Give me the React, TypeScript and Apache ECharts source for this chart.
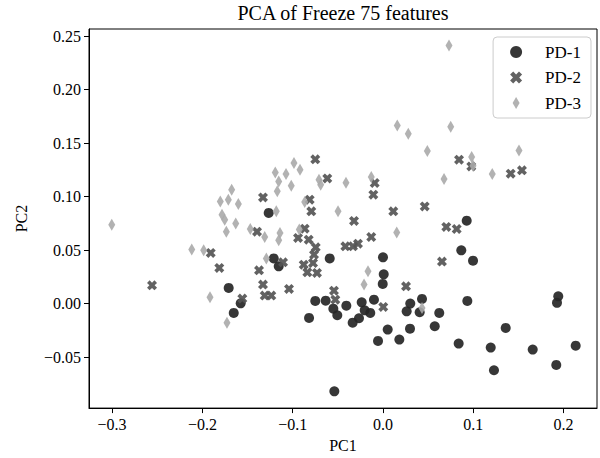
import React, { useEffect, useRef } from "react";
import * as echarts from "echarts";

const pd1: [number, number][] = [
  [-0.0819, -0.0134], [-0.075, 0.0025], [-0.0635, 0.0028], [-0.055, -0.0047], [-0.0506, -0.0109],
  [-0.0406, -0.0019], [-0.0236, 0.0012], [-0.0203, -0.0063], [-0.0266, -0.0137], [-0.0336, -0.0178],
  [-0.0141, -0.0087], [-0.01, 0.0037], [-0.0003, 0.0184], [0.0052, -0.0243], [-0.0055, -0.0349],
  [0.0181, -0.0336], [0.0299, -0.0234], [0.0432, 0.0044], [0.0302, 0.0], [0.0262, -0.0072],
  [0.0406, -0.0081], [-0.0539, -0.082], [0.0934, 0.0025], [0.0623, -0.0087], [0.0573, -0.0212],
  [0.0838, -0.0374], [0.1193, -0.0411], [0.1229, -0.0623], [0.1359, -0.0227], [0.1658, -0.043],
  [0.1941, 0.0068], [0.1927, 0.0007], [0.2134, -0.0393], [0.1919, -0.0573], [0.0927, 0.0776],
  [0.0867, 0.0498], [0.0997, 0.0402], [-0.1709, 0.0147], [-0.1576, 0.0003], [-0.1653, -0.0087],
  [-0.1266, 0.0848], [-0.121, 0.0423], [-0.1155, 0.0349], [-0.059, 0.0423], [0.0, 0.0433],
  [0.0008, 0.0274],
];

const pd2: [number, number][] = [
  [-0.2558, 0.0171], [-0.1908, 0.0474], [-0.1813, 0.0334], [-0.1558, 0.0047], [-0.1395, 0.0673],
  [-0.1373, 0.0311], [-0.1329, 0.0178], [-0.131, 0.0075], [-0.1237, 0.0075], [-0.1041, 0.0137],
  [-0.0543, 0.0121], [-0.0528, 0.0037], [0.0255, 0.0162], [0.0003, -0.0031], [-0.075, 0.1349],
  [-0.0617, 0.1171], [-0.0092, 0.1128], [-0.0107, 0.1019], [-0.1329, 0.0993], [-0.0812, 0.0972],
  [-0.0794, 0.0863], [-0.0321, 0.0773], [0.0114, 0.0863], [0.0462, 0.0909], [-0.013, 0.0623],
  [-0.0417, 0.0536], [-0.0332, 0.0536], [-0.0277, 0.0561], [-0.0867, 0.0701], [-0.0941, 0.0614],
  [-0.0823, 0.0598], [-0.0745, 0.0526], [-0.0764, 0.0458], [-0.0775, 0.038], [-0.0878, 0.0364],
  [-0.0838, 0.0293], [-0.0731, 0.0287], [-0.1107, 0.0386], [0.0842, 0.1346], [0.0978, 0.1283],
  [0.1414, 0.1215], [0.1539, 0.1246], [0.0701, 0.0717], [0.0816, 0.0698], [0.0653, 0.0393],
];

const pd3: [number, number][] = [
  [-0.3004, 0.0738], [-0.1676, 0.1065], [-0.1802, 0.0956], [-0.1713, 0.0972], [-0.1602, 0.0932],
  [-0.1783, 0.0832], [-0.1753, 0.0785], [-0.1631, 0.075], [-0.1735, 0.0673], [-0.147, 0.0698],
  [-0.2118, 0.0505], [-0.1986, 0.0498], [-0.1916, 0.0059], [-0.1728, -0.018], [-0.0986, 0.1315],
  [-0.1193, 0.1227], [-0.1074, 0.1212], [-0.0919, 0.1252], [-0.1155, 0.1143], [-0.1016, 0.1103],
  [-0.1171, 0.105], [-0.0709, 0.1159], [-0.069, 0.1112], [-0.041, 0.1131], [-0.013, 0.1184],
  [-0.0867, 0.095], [-0.1182, 0.0863], [-0.0498, 0.0863], [0.0152, 0.0666], [-0.0927, 0.0692],
  [-0.131, 0.0623], [-0.1141, 0.0661], [-0.1155, 0.0592], [-0.1292, 0.0421], [-0.0166, 0.0302],
  [0.0158, 0.1666], [0.028, 0.1589], [0.0491, 0.1427], [0.0731, 0.2414], [0.075, 0.1654],
  [0.0982, 0.1371], [0.0997, 0.129], [0.1506, 0.1433], [0.0676, 0.1165], [0.121, 0.1212],
  [-0.021, 0.0178], [0.0432, -0.004],
];

const xTicks = [-0.3, -0.2, -0.1, 0.0, 0.1, 0.2];
const yTicks = [-0.05, 0.0, 0.05, 0.1, 0.15, 0.2, 0.25];
const seriesNames = ["PD-1", "PD-2", "PD-3"];

const X_PATH =
  "path://M0,2.6 L2.6,0 L5,2.4 L7.4,0 L10,2.6 L7.6,5 L10,7.4 L7.4,10 L5,7.6 L2.6,10 L0,7.4 L2.4,5 Z";
const DIAMOND_PATH = "path://M3.5,0 L7,6 L3.5,12 L0,6 Z";

const FONT = "'Liberation Serif', 'DejaVu Serif', serif";
const fmt = (v: number, d: number) => v.toFixed(d).replace("-", "\u2212");

export default function App() {
  const ref = useRef<HTMLDivElement>(null);
  useEffect(() => {
    if (!ref.current) return;
    const chart = echarts.init(ref.current, undefined, { renderer: "svg" });
    const gridLeft = 89;
    const gridRight = 3;
    const gridTop = 29;
    const gridBottom = 49.5;
    chart.setOption({
      animation: false,
      backgroundColor: "#fff",
      graphic: [
        {
          type: "text",
          x: (gridLeft + (600 - gridRight)) / 2,
          y: 13,
          style: {
            text: "PCA of Freeze 75 features",
            font: `20px ${FONT}`,
            fill: "#000",
            align: "center",
            verticalAlign: "middle",
          },
        },
      ],
      grid: {
        left: gridLeft,
        right: gridRight,
        top: gridTop,
        bottom: gridBottom,
        show: true,
        borderColor: "#000",
        borderWidth: 1,
        backgroundColor: "transparent",
      },
      legend: {
        orient: "vertical",
        right: 9,
        top: 37,
        padding: [6.5, 10, 6.5, 17],
        itemGap: 8.5,
        itemWidth: 12,
        itemHeight: 12,
        borderColor: "#cccccc",
        borderWidth: 1,
        borderRadius: 4,
        backgroundColor: "rgba(255,255,255,0.8)",
        textStyle: { fontFamily: FONT, fontSize: 17, color: "#000", lineHeight: 16, padding: [0, 0, 0, 18] },
        data: [
          { name: seriesNames[0], icon: "circle" },
          { name: seriesNames[1], icon: X_PATH },
          { name: seriesNames[2], icon: DIAMOND_PATH },
        ],
      },
      xAxis: {
        type: "value",
        min: -0.3256,
        max: 0.237,
        name: "PC1",
        nameLocation: "middle",
        nameGap: 25,
        nameTextStyle: { fontFamily: FONT, fontSize: 16, color: "#000" },
        splitLine: { show: false },
        axisLine: { show: true, onZero: false, lineStyle: { color: "#000", width: 1 } },
        axisTick: { show: true, length: 5, inside: false, customValues: xTicks, lineStyle: { color: "#000" } },
        axisLabel: {
          customValues: xTicks,
          fontFamily: FONT,
          fontSize: 16,
          color: "#000",
          margin: 8,
          formatter: (v: number) => fmt(v, 1),
        },
      },
      yAxis: {
        type: "value",
        min: -0.0977,
        max: 0.2568,
        name: "PC2",
        nameLocation: "middle",
        nameGap: 60,
        nameTextStyle: { fontFamily: FONT, fontSize: 16, color: "#000" },
        splitLine: { show: false },
        axisLine: { show: true, onZero: false, lineStyle: { color: "#000", width: 1 } },
        axisTick: { show: true, length: 5, inside: false, customValues: yTicks, lineStyle: { color: "#000" } },
        axisLabel: {
          customValues: yTicks,
          fontFamily: FONT,
          fontSize: 16,
          color: "#000",
          margin: 8,
          formatter: (v: number) => fmt(v, 2),
        },
      },
      series: [
        {
          name: seriesNames[0],
          type: "scatter",
          data: pd1,
          symbol: "circle",
          symbolSize: 10,
          itemStyle: { color: "#262626", opacity: 0.92 },
        },
        {
          name: seriesNames[1],
          type: "scatter",
          data: pd2,
          symbol: X_PATH,
          symbolSize: 10,
          itemStyle: { color: "#555555", opacity: 0.92 },
        },
        {
          name: seriesNames[2],
          type: "scatter",
          data: pd3,
          symbol: DIAMOND_PATH,
          symbolSize: [7, 12],
          itemStyle: { color: "#aaaaaa", opacity: 0.9 },
        },
      ],
    });
    return () => chart.dispose();
  }, []);
  return (
    <div
      ref={ref}
      style={{ position: "fixed", left: 0, top: 0, width: 600, height: 458, background: "#fff" }}
    />
  );
}
